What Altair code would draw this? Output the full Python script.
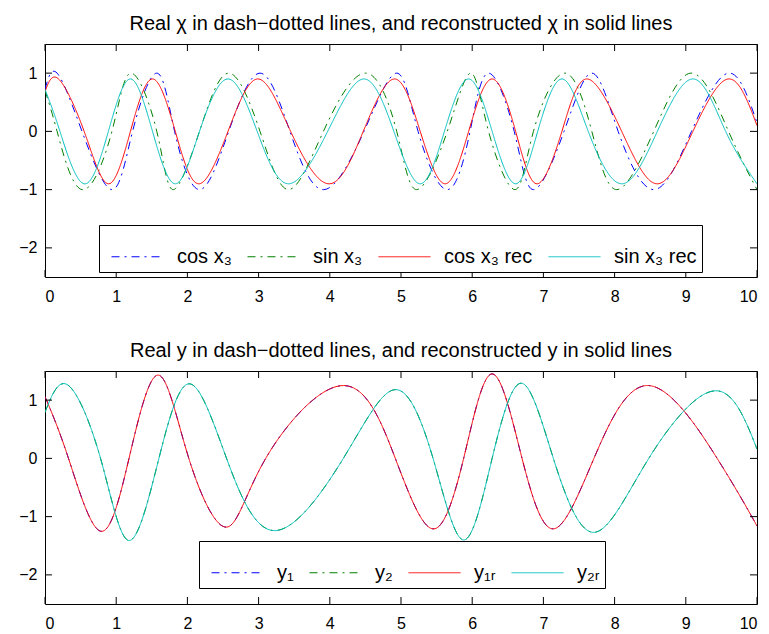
import altair as alt
import pandas as pd

FONT = "Liberation Sans"

# ---------------- top panel: chi ----------------
top_names = ["cos x\u2083", "sin x\u2083", "cos x\u2083 rec", "sin x\u2083 rec"]
top_colors = ["#0000ff", "#008000", "#ff0000", "#00bfbf"]

cos_true_x = [0, 0.17, 0.52, 0.94, 1.23, 1.57, 1.82, 2.17, 2.58, 3.02, 3.44, 3.91, 4.48, 4.94, 5.24, 5.65, 5.97, 6.23, 6.59, 6.86, 7.29, 7.68, 8.05, 8.55, 9.08, 9.60, 10.0]
cos_true_y = [0.72, 1, 0, -1, 0, 1, 0, -1, 0, 1, 0, -1, 0, 1, 0, -1, 0, 1, 0, -1, 0, 1, 0, -1, 0, 1, 0.15]

sin_true_x = [0, 0.17, 0.52, 0.94, 1.21, 1.57, 1.80, 2.17, 2.58, 3.02, 3.42, 3.91, 4.50, 4.94, 5.22, 5.65, 5.98, 6.23, 6.60, 6.86, 7.30, 7.68, 8.03, 8.55, 9.09, 9.60, 10.0]
sin_true_y = [0.70, 0, -1, 0, 1, 0, -1, 0, 1, 0, -1, 0, 1, 0, -1, 0, 1, 0, -1, 0, 1, 0, -1, 0, 1, 0, -1]

cos_rec_x = [0, 0.19, 0.55, 0.89, 1.20, 1.51, 1.83, 2.16, 2.57, 2.99, 3.45, 3.99, 4.47, 4.91, 5.27, 5.62, 5.95, 6.28, 6.61, 6.91, 7.26, 7.61, 8.10, 8.60, 9.10, 9.60, 10.0]
cos_rec_y = [0.68, 0.9, 0, -0.9, 0, 0.9, 0, -0.9, 0, 0.9, 0, -0.9, 0, 0.9, 0, -0.9, 0, 0.9, 0, -0.9, 0, 0.9, 0, -0.9, 0, 0.9, 0.1]

sin_rec_x = [0, 0.21, 0.55, 0.89, 1.20, 1.51, 1.83, 2.17, 2.57, 2.98, 3.42, 3.97, 4.48, 4.90, 5.27, 5.61, 5.95, 6.28, 6.61, 6.92, 7.26, 7.63, 8.10, 8.60, 9.11, 9.56, 10.0]
sin_rec_y = [0.72, 0, -0.9, 0, 0.9, 0, -0.9, 0, 0.9, 0, -0.9, 0, 0.9, 0, -0.9, 0, 0.9, 0, -0.9, 0, 0.9, 0, -0.9, 0, 0.9, 0, -0.9]

# ---------------- bottom panel: y ----------------
bot_names = ["y\u2081", "y\u2082", "y\u2081\u1d63", "y\u2082\u1d63"]
bot_colors = ["#0000ff", "#008000", "#ff0000", "#00bfbf"]

y1_x = [0, 0.33, 0.78, 1.18, 1.59, 2.02, 2.55, 3.10, 4.19, 4.92, 5.45, 5.88, 6.28, 6.70, 7.14, 7.71, 8.48, 9.44, 10.0]
y1_v = [1.06, 0, -1.25, 0, 1.43, 0, -1.18, 0, 1.25, 0, -1.21, 0, 1.45, 0, -1.21, 0, 1.25, 0, -1.16]

y2_x = [0, 0.32, 0.78, 1.18, 1.60, 2.03, 2.55, 3.23, 4.19, 4.92, 5.45, 5.88, 6.28, 6.69, 7.14, 7.71, 8.48, 9.41, 10.0]
y2_v = [0.79, 1.26, 0, -1.41, 0, 1.28, 0, -1.24, 0, 1.18, 0, -1.40, 0, 1.29, 0, -1.27, 0, 1.16, 0.16]

# reconstructed y overlays the real y within drawing precision
y1r_x = list(y1_x)
y1r_v = list(y1_v)
y2r_x = list(y2_x)
y2r_v = list(y2_v)

x_ticks = [0, 1, 2, 3, 4, 5, 6, 7, 8, 9, 10]
y_ticks = [-2, -1, 0, 1]

W, H = 712, 233
TICK = 7
DASHDOT = [8, 5, 2, 5]
SOLID = [1, 0]


def long_df(series):
    rows = []
    for name, xs, ys in series:
        for a, b in zip(xs, ys):
            rows.append({"t": a, "v": b, "series": name})
    return pd.DataFrame(rows)


def panel(df, names, colors, title, lx, ly):
    X = alt.X("t:Q", scale=alt.Scale(domain=[0, 10], nice=False, zero=False),
              axis=alt.Axis(values=x_ticks, ticks=False, domain=False, grid=False,
                            labelFont=FONT, labelFontSize=16, labelColor="black",
                            labelPadding=11, title=None, format="d"))
    Y = alt.Y("v:Q", scale=alt.Scale(domain=[-2.5, 1.5], nice=False, zero=False),
              axis=alt.Axis(values=y_ticks, ticks=False, domain=False, grid=False,
                            labelFont=FONT, labelFontSize=16, labelColor="black",
                            labelPadding=8, title=None, format="d"))
    leg = alt.Legend(title=None, orient="none", legendX=lx, legendY=ly,
                     direction="horizontal", columns=4,
                     symbolType="stroke", symbolSize=2704, symbolStrokeWidth=1,
                     symbolOffset=7, labelOffset=13, columnPadding=8,
                     labelFont=FONT, labelFontSize=20, labelColor="black",
                     padding=5, strokeColor="black", fillColor="white")
    color = alt.Color("series:N", scale=alt.Scale(domain=names, range=colors), legend=leg)
    dash = alt.StrokeDash("series:N",
                          scale=alt.Scale(domain=names, range=[DASHDOT, DASHDOT, SOLID, SOLID]),
                          legend=leg)
    base = alt.Chart(df)
    layers = []
    for n in names:
        layers.append(
            base.transform_filter(alt.datum.series == n)
            .mark_line(interpolate="natural", strokeWidth=1, clip=True)
            .encode(x=X, y=Y, color=color, strokeDash=dash)
        )
    xt = alt.Chart(pd.DataFrame({"t": x_ticks}))
    yt = alt.Chart(pd.DataFrame({"v": y_ticks}))
    layers += [
        xt.mark_rule(color="black", strokeWidth=1).encode(x=X, y=alt.value(H), y2=alt.value(H - TICK)),
        xt.mark_rule(color="black", strokeWidth=1).encode(x=X, y=alt.value(0), y2=alt.value(TICK)),
        yt.mark_rule(color="black", strokeWidth=1).encode(y=Y, x=alt.value(0), x2=alt.value(TICK)),
        yt.mark_rule(color="black", strokeWidth=1).encode(y=Y, x=alt.value(W), x2=alt.value(W - TICK)),
    ]
    return alt.layer(*layers).properties(
        width=W, height=H,
        title=alt.TitleParams(title, font=FONT, fontSize=20, fontWeight="normal",
                              color="black", offset=10),
    )


top_df = long_df([
    (top_names[0], cos_true_x, cos_true_y),
    (top_names[1], sin_true_x, sin_true_y),
    (top_names[2], cos_rec_x, cos_rec_y),
    (top_names[3], sin_rec_x, sin_rec_y),
])
bot_df = long_df([
    (bot_names[0], y1_x, y1_v),
    (bot_names[1], y2_x, y2_v),
    (bot_names[2], y1r_x, y1r_v),
    (bot_names[3], y2r_x, y2r_v),
])

top = panel(top_df, top_names, top_colors,
            "Real \u03c7 in dash\u2212dotted lines, and reconstructed \u03c7 in solid lines",
            54, 181)
bot = panel(bot_df, bot_names, bot_colors,
            "Real y in dash\u2212dotted lines, and reconstructed y in solid lines",
            154, 170)

chart = (
    alt.vconcat(top, bot, spacing=35)
    .resolve_scale(color="independent", strokeDash="independent")
    .resolve_legend(color="independent", strokeDash="independent")
    .properties(padding={"left": 18, "top": 13, "right": 10, "bottom": 0}, background="white")
    .configure_view(stroke="black", strokeWidth=1)
)

chart.save("out.html", embed_options={"renderer": "svg", "actions": False})
